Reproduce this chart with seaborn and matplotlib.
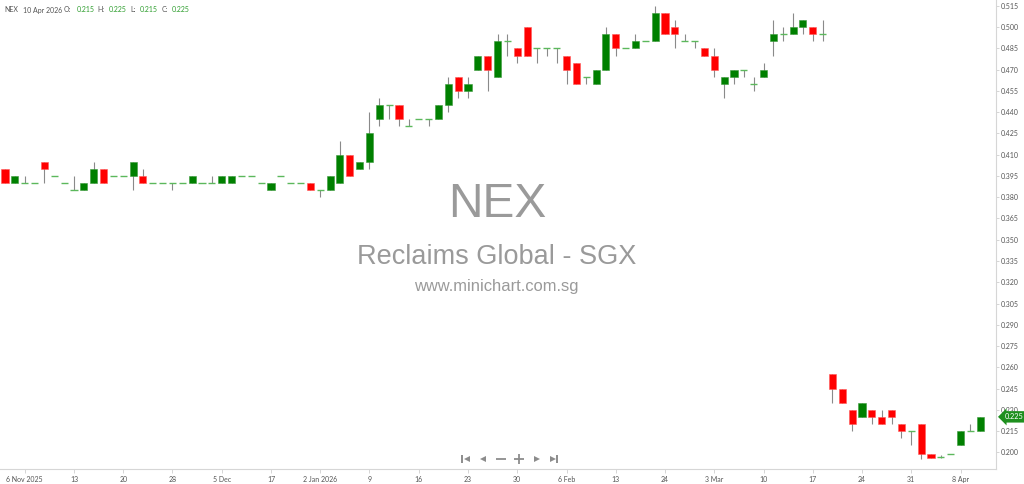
import numpy as np
import pandas as pd
import matplotlib
matplotlib.use('Agg')
import matplotlib.pyplot as plt
import seaborn as sns

# daily OHLC, 4 Nov 2025 -> 10 Apr 2026 (100 sessions)
opens = [0.400, 0.390, 0.390, 0.390, 0.405, 0.395, 0.390, 0.385, 0.385, 0.390,
         0.400, 0.395, 0.395, 0.395, 0.395, 0.390, 0.390, 0.390, 0.390, 0.390,
         0.390, 0.390, 0.390, 0.390, 0.395, 0.395, 0.390, 0.385, 0.395, 0.390,
         0.390, 0.390, 0.385, 0.385, 0.390, 0.410, 0.400, 0.405, 0.435, 0.445,
         0.445, 0.430, 0.435, 0.435, 0.435, 0.445, 0.465, 0.455, 0.470, 0.480,
         0.465, 0.490, 0.485, 0.500, 0.485, 0.485, 0.485, 0.480, 0.475, 0.465,
         0.460, 0.470, 0.495, 0.485, 0.485, 0.490, 0.490, 0.510, 0.500, 0.490,
         0.490, 0.485, 0.480, 0.460, 0.465, 0.470, 0.460, 0.465, 0.490, 0.495,
         0.495, 0.500, 0.500, 0.495, 0.255, 0.245, 0.230, 0.225, 0.230, 0.225,
         0.230, 0.220, 0.215, 0.220, 0.199, 0.197, 0.199, 0.205, 0.215, 0.215]
highs = [0.400, 0.395, 0.395, 0.390, 0.405, 0.395, 0.390, 0.395, 0.390, 0.405,
         0.400, 0.395, 0.395, 0.405, 0.400, 0.390, 0.390, 0.390, 0.390, 0.395,
         0.390, 0.395, 0.395, 0.395, 0.395, 0.395, 0.390, 0.390, 0.395, 0.390,
         0.390, 0.390, 0.385, 0.395, 0.420, 0.410, 0.405, 0.440, 0.450, 0.445,
         0.445, 0.435, 0.435, 0.435, 0.445, 0.465, 0.465, 0.465, 0.480, 0.480,
         0.495, 0.495, 0.485, 0.500, 0.485, 0.485, 0.485, 0.480, 0.475, 0.465,
         0.470, 0.500, 0.495, 0.485, 0.495, 0.490, 0.515, 0.510, 0.505, 0.495,
         0.490, 0.485, 0.485, 0.465, 0.470, 0.470, 0.465, 0.475, 0.505, 0.500,
         0.510, 0.505, 0.500, 0.505, 0.255, 0.245, 0.230, 0.235, 0.230, 0.230,
         0.230, 0.220, 0.215, 0.220, 0.199, 0.198, 0.199, 0.215, 0.220, 0.225]
lows = [0.390, 0.390, 0.390, 0.390, 0.390, 0.395, 0.390, 0.385, 0.385, 0.390,
        0.390, 0.395, 0.395, 0.385, 0.390, 0.390, 0.390, 0.385, 0.390, 0.390,
        0.390, 0.390, 0.390, 0.390, 0.395, 0.395, 0.390, 0.385, 0.395, 0.390,
        0.390, 0.385, 0.380, 0.385, 0.390, 0.395, 0.400, 0.400, 0.430, 0.435,
        0.430, 0.430, 0.435, 0.430, 0.435, 0.440, 0.450, 0.450, 0.470, 0.455,
        0.465, 0.480, 0.475, 0.480, 0.475, 0.480, 0.475, 0.460, 0.460, 0.460,
        0.460, 0.470, 0.480, 0.485, 0.485, 0.490, 0.490, 0.495, 0.485, 0.490,
        0.485, 0.480, 0.465, 0.450, 0.460, 0.465, 0.455, 0.465, 0.480, 0.490,
        0.495, 0.495, 0.490, 0.490, 0.235, 0.235, 0.215, 0.225, 0.220, 0.220,
        0.220, 0.210, 0.205, 0.195, 0.196, 0.196, 0.199, 0.205, 0.215, 0.215]
closes = [0.390, 0.395, 0.390, 0.390, 0.400, 0.395, 0.390, 0.385, 0.390, 0.400,
          0.390, 0.395, 0.395, 0.405, 0.390, 0.390, 0.390, 0.390, 0.390, 0.395,
          0.390, 0.390, 0.395, 0.395, 0.395, 0.395, 0.390, 0.390, 0.395, 0.390,
          0.390, 0.385, 0.385, 0.395, 0.410, 0.395, 0.405, 0.425, 0.445, 0.445,
          0.435, 0.430, 0.435, 0.435, 0.445, 0.460, 0.455, 0.460, 0.480, 0.470,
          0.490, 0.490, 0.480, 0.480, 0.485, 0.485, 0.485, 0.470, 0.460, 0.465,
          0.470, 0.495, 0.485, 0.485, 0.490, 0.490, 0.510, 0.495, 0.495, 0.490,
          0.490, 0.480, 0.470, 0.465, 0.470, 0.470, 0.460, 0.470, 0.495, 0.495,
          0.500, 0.505, 0.495, 0.495, 0.245, 0.235, 0.220, 0.235, 0.225, 0.220,
          0.225, 0.215, 0.215, 0.199, 0.196, 0.197, 0.199, 0.215, 0.215, 0.225]

# x-axis labels, one every 5 sessions starting at 6 Nov (session 2)
tick_labels = ['6 Nov 2025', '13', '20', '28', '5 Dec', '17', '2 Jan 2026', '9', '16', '23',
               '30', '6 Feb', '13', '24', '3 Mar', '10', '17', '24', '31', '8 Apr']

ticker = 'NEX'
company = 'Reclaims Global - SGX'
site = 'www.minichart.com.sg'
last_date = '10 Apr 2026'

df = pd.DataFrame({'open': opens, 'high': highs, 'low': lows, 'close': closes})
df['idx'] = np.arange(len(df))

sns.set_theme(style='white')
plt.rcParams['font.family'] = ['Lato', 'DejaVu Sans']

W, H = 1024, 484
fig = plt.figure(figsize=(W / 100, H / 100), dpi=100)
ax = fig.add_axes([0, 1 - 469 / H, 996 / W, 469 / H])

GREEN = '#008000'
RED = '#ff0000'
DOJI = '#5cb85c'
WICK = '#8a8a8a'

# wicks
ax.vlines(df['idx'], df['low'], df['high'], color=WICK, linewidth=0.8, zorder=1)

up = df[df['close'] > df['open']]
down = df[df['close'] < df['open']]
flat = df[df['close'] == df['open']]

ax.bar(up['idx'], up['close'] - up['open'], bottom=up['open'], width=0.72,
       color=GREEN, edgecolor='#3c9a3c', linewidth=0.4, zorder=2)
ax.bar(down['idx'], down['open'] - down['close'], bottom=down['close'], width=0.72,
       color=RED, edgecolor='#ff5a5a', linewidth=0.4, zorder=2)
ax.hlines(flat['close'], flat['idx'] - 0.36, flat['idx'] + 0.36, color=DOJI,
          linewidth=1.0, zorder=3)

ax.set_xlim(-0.508, 100.6)
ax.set_ylim(0.1882, 0.5192)

ax.set_xticks(range(2, len(df), 5))
ax.set_xticklabels(tick_labels)
yt = np.round(np.arange(0.200, 0.5151, 0.015), 3)
ax.set_yticks(yt)
ax.set_yticklabels(['%.3f' % v for v in yt])
ax.yaxis.tick_right()

for s in ['top', 'left']:
    ax.spines[s].set_visible(False)
for s in ['right', 'bottom']:
    ax.spines[s].set_color('#d6d6d6')
    ax.spines[s].set_linewidth(0.8)
ax.tick_params(axis='x', length=3, width=0.6, color='#cfcfcf', labelsize=5,
               labelcolor='#555555', pad=2, bottom=True)
ax.tick_params(axis='y', length=2, width=0.6, color='#cfcfcf', labelsize=5,
               labelcolor='#555555', pad=1.5, right=True)
ax.grid(False)

# watermark
ax.text(0.499, 0.565, ticker, transform=ax.transAxes, ha='center', va='center',
        fontsize=34.5, color='#9a9a9a', family='Liberation Sans')
ax.text(0.4985, 0.452, company, transform=ax.transAxes, ha='center', va='center',
        fontsize=19.5, color='#9a9a9a', family='Liberation Sans')
ax.text(0.4985, 0.390, site, transform=ax.transAxes, ha='center', va='center',
        fontsize=11.9, color='#9a9a9a', family='Liberation Sans')

# header line
dark = '#555555'
vgreen = '#2e9e2e'
header = [(ticker, 4, dark), (last_date, 23, dark),
          ('O:', 64, dark), ('%.3f' % opens[-1], 77, vgreen),
          ('H:', 97, dark), ('%.3f' % highs[-1], 109, vgreen),
          ('L:', 130, dark), ('%.3f' % lows[-1], 140, vgreen),
          ('C:', 162, dark), ('%.3f' % closes[-1], 172, vgreen)]
for txt, px, col in header:
    fig.text(px / W, 1 - 10 / H, txt, ha='left', va='center', fontsize=5, color=col)

# last price tag
ax.annotate('%.3f' % closes[-1], xy=(1.0, closes[-1]), xycoords=('axes fraction', 'data'),
            xytext=(6, 0), textcoords='offset points', ha='left', va='center',
            fontsize=5.3, color='white', annotation_clip=False,
            bbox=dict(boxstyle='larrow,pad=0.3', fc='#1e8f1e', ec='none'))

# navigation buttons
ny = 10 / 469
nav = '#8c8c8c'
def nx(px):
    return px / 996
ax.plot([nx(462)], [ny], marker='|', ms=6, mew=1.4, color=nav, transform=ax.transAxes, clip_on=False)
ax.plot([nx(466.5)], [ny], marker='<', ms=5, mew=0, color=nav, transform=ax.transAxes, clip_on=False)
ax.plot([nx(483)], [ny], marker='<', ms=5, mew=0, color=nav, transform=ax.transAxes, clip_on=False)
ax.plot([nx(501)], [ny], marker='_', ms=7, mew=1.3, color=nav, transform=ax.transAxes, clip_on=False)
ax.plot([nx(519)], [ny], marker='+', ms=7, mew=1.3, color=nav, transform=ax.transAxes, clip_on=False)
ax.plot([nx(537)], [ny], marker='>', ms=5, mew=0, color=nav, transform=ax.transAxes, clip_on=False)
ax.plot([nx(552.5)], [ny], marker='>', ms=5, mew=0, color=nav, transform=ax.transAxes, clip_on=False)
ax.plot([nx(557)], [ny], marker='|', ms=6, mew=1.4, color=nav, transform=ax.transAxes, clip_on=False)

fig.savefig('out.png', dpi=100)
